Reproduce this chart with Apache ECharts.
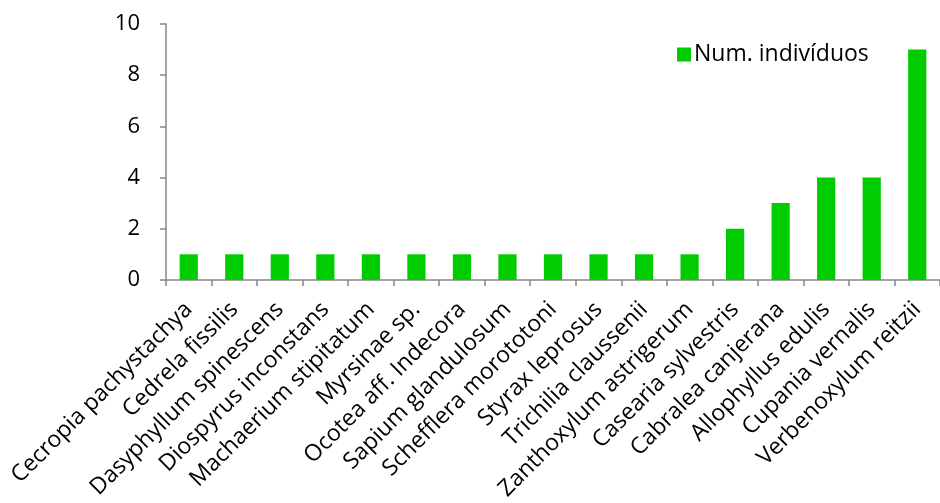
<!DOCTYPE html>
<html>
<head>
<meta charset="utf-8">
<script src="https://cdn.jsdelivr.net/npm/echarts@6/dist/echarts.min.js"></script>
<style>html,body{margin:0;padding:0;background:#fff}#c{width:940px;height:503px}</style>
</head>
<body>
<div id="c"></div>
<script>
const categories = ["Cecropia pachystachya","Cedrela fissilis","Dasyphyllum spinescens","Diospyrus inconstans","Machaerium stipitatum","Myrsinae sp.","Ocotea aff. Indecora","Sapium glandulosum","Schefflera morototoni","Styrax leprosus","Trichilia claussenii","Zanthoxylum astrigerum","Casearia sylvestris","Cabralea canjerana","Allophyllus edulis","Cupania vernalis","Verbenoxylum reitzii"];
const values = [1,1,1,1,1,1,1,1,1,1,1,1,2,3,4,4,9];
const seriesName = "Num. indivíduos";
const yTicks = [0,2,4,6,8,10];

const font = "'Open Sans', sans-serif";
const chart = echarts.init(document.getElementById('c'), null, {renderer:'canvas'});
chart.setOption({
  animation:false,
  backgroundColor:'#fff',
  textStyle:{fontFamily:font},
  legend:{
    data:[seriesName], left:672, top:38, itemWidth:14, itemHeight:14, itemGap:6,
    icon:'rect',
    textStyle:{fontFamily:font, fontSize:23, color:'#000', padding:[0,0,0,-2]}
  },
  grid:{left:166, right:-12, top:24, bottom:222, containLabel:false},
  xAxis:{
    type:'category', data:categories,
    axisLine:{lineStyle:{color:'#868686', width:1.5}},
    axisTick:{show:true, alignWithLabel:false, length:6, lineStyle:{color:'#868686', width:1.5}},
    axisLabel:{rotate:45, interval:0, fontSize:23, color:'#000', fontFamily:font, margin:26}
  },
  yAxis:{
    type:'value', min:0, max:10, interval:2,
    splitLine:{show:false},
    axisLine:{show:true, lineStyle:{color:'#868686', width:1.5}},
    axisTick:{show:true, length:6, lineStyle:{color:'#868686', width:1.5}},
    axisLabel:{fontSize:22, color:'#000', fontFamily:font, margin:26, formatter:v=>yTicks.includes(v)?String(v):''}
  },
  series:[{
    name:seriesName, type:'bar', data:values, barWidth:'40%',
    itemStyle:{color:'#00CC00'}
  }]
});
</script>
</body>
</html>
